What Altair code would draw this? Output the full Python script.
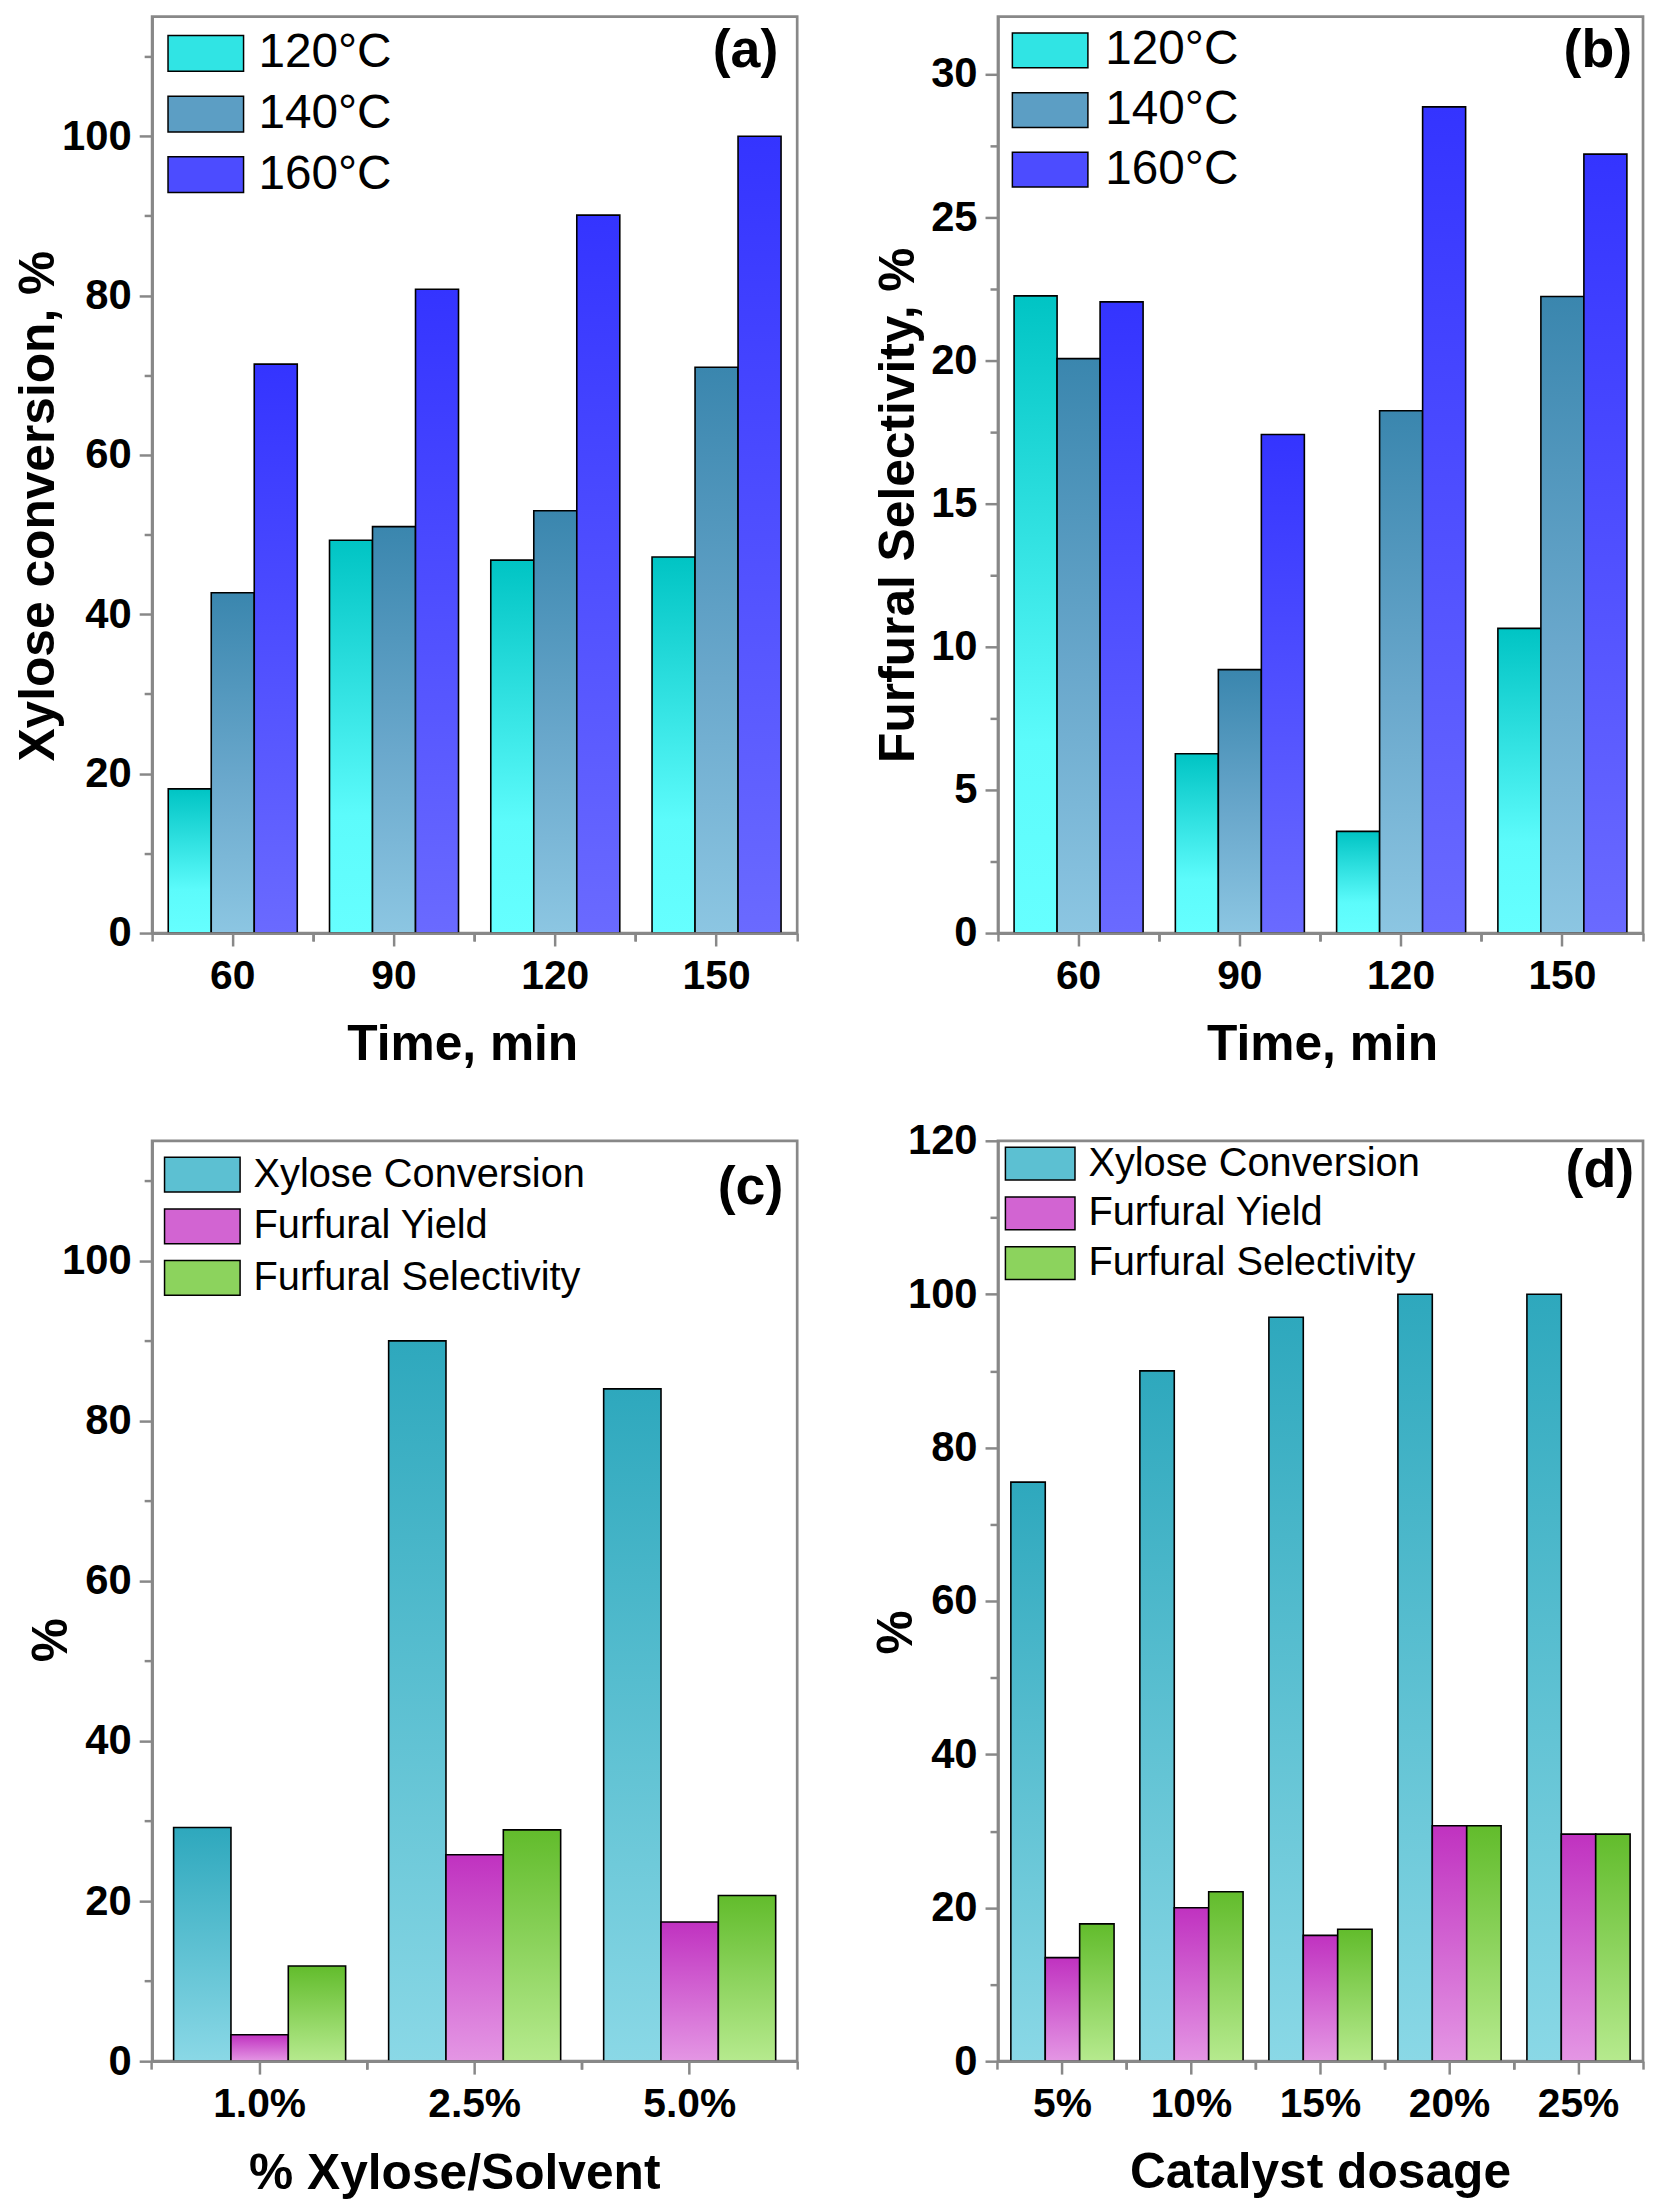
import altair as alt
import pandas as pd

# ---------------- data ----------------
times = ["60", "90", "120", "150"]
temps = ["120°C", "140°C", "160°C"]
conv_120 = [18.1, 49.3, 46.8, 47.2]
conv_140 = [42.7, 51.0, 53.0, 71.0]
conv_160 = [71.4, 80.8, 90.1, 100.0]
sel_120 = [22.25, 6.26, 3.55, 10.64]
sel_140 = [20.06, 9.2, 18.24, 22.23]
sel_160 = [22.04, 17.41, 28.85, 27.2]

ratios = ["1.0%", "2.5%", "5.0%"]
metrics = ["Xylose Conversion", "Furfural Yield", "Furfural Selectivity"]
ratio_conv = [29.2, 90.0, 84.0]
ratio_yield = [3.3, 25.8, 17.4]
ratio_sel = [11.9, 28.9, 20.7]

dosages = ["5%", "10%", "15%", "20%", "25%"]
dose_conv = [75.5, 90.0, 97.0, 100.0, 100.0]
dose_yield = [13.5, 20.0, 16.4, 30.7, 29.6]
dose_sel = [17.9, 22.1, 17.2, 30.7, 29.6]

panel_labels = ["(a)", "(b)", "(c)", "(d)"]

# ---------------- styles ----------------
FONT = "Liberation Sans"
GRAY = "#888888"

# gradient stops (offset 0 = bottom of bar, 1 = top)
temp_stops = {
    "120°C": [("#66ffff", 0), ("#5cfbfb", 0.3), ("#00c4c4", 1)],
    "140°C": [("#8cc6e2", 0), ("#6aa8cc", 0.45), ("#3a86ae", 1)],
    "160°C": [("#6a6aff", 0), ("#3434ff", 1)],
}
temp_legend = {"120°C": "#30e4e4", "140°C": "#5c9ec4", "160°C": "#4c4cff"}
metric_stops = {
    "Xylose Conversion": [("#8ad8e6", 0), ("#2ea8bd", 1)],
    "Furfural Yield": [("#e496e4", 0), ("#c032c0", 1)],
    "Furfural Selectivity": [("#b6ea8e", 0), ("#62bc2c", 1)],
}
metric_legend = {"Xylose Conversion": "#5cc0d2", "Furfural Yield": "#d264d2",
                 "Furfural Selectivity": "#8cd35d"}

PANEL_W = 649


def gradient(stops):
    return alt.LinearGradient(
        gradient="linear",
        stops=[alt.GradientStop(color=c, offset=o) for c, o in stops],
        x1=0, x2=0, y1=1, y2=0,
    )


def panel(cats, series, vals, stops_map, legend_map, ymax, major, minor,
          xtitle, ytitle, label, p):
    rows = []
    for s, vs in zip(series, vals):
        for c, v in zip(cats, vs):
            rows.append({"cat": c, "series": s, "value": v})
    df = pd.DataFrame(rows)

    xscale = alt.Scale(domain=cats, paddingInner=0.2, paddingOuter=0.1)
    offscale = alt.Scale(domain=series, paddingInner=0, paddingOuter=0)
    yscale = alt.Scale(domain=[0, ymax], nice=False, zero=True)

    majors, minors = [], []
    k = 0
    while k * minor <= ymax + 1e-9:
        v = round(k * minor, 4)
        if abs(v / major - round(v / major)) < 1e-6:
            majors.append(v)
        else:
            minors.append(v)
        k += 1

    yaxis = alt.Axis(
        orient="left", values=majors,
        tickSize=13, tickWidth=2.5, tickColor=GRAY,
        domainColor=GRAY, domainWidth=2.7, grid=False, labelOverlap=False,
        labelFont=FONT, labelFontSize=42, labelFontWeight="bold",
        labelColor="black", labelPadding=8,
        title=ytitle, titleFont=FONT, titleFontSize=50, titleFontWeight="bold",
        titleColor="black", titleAngle=270, titleAlign="center",
        titleBaseline="alphabetic", titleX=p["ytx"], titleY=p["yty"], zindex=1,
    )
    yminor = alt.Axis(
        orient="left", values=minors, labels=False, domain=False, title=None,
        grid=False, ticks=True, tickSize=8, tickWidth=2.5, tickColor=GRAY,
    )
    xaxis = alt.Axis(
        orient="bottom", labelAngle=0, tickSize=13, tickWidth=2.5, tickColor=GRAY,
        domainColor=GRAY, domainWidth=2.7, grid=False,
        labelFont=FONT, labelFontSize=41, labelFontWeight="bold",
        labelColor="black", labelPadding=11,
        title=xtitle, titleFont=FONT, titleFontSize=50, titleFontWeight="bold",
        titleColor="black", titleAlign="center", titleBaseline="alphabetic",
        titleX=p["xtx"], titleY=p["xty"], zindex=1,
    )

    def minor_axis(bp):
        return alt.Axis(orient="bottom", labels=False, domain=False, title=None,
                        grid=False, ticks=True, tickSize=8, tickWidth=2.5,
                        tickColor=GRAY, bandPosition=bp)

    layers = []
    for i, s in enumerate(series):
        if i == 0:
            xa = xaxis
        elif i == 1:
            xa = minor_axis(1.125)
        else:
            xa = None
        layers.append(
            alt.Chart(df)
            .transform_filter(alt.datum.series == s)
            .mark_bar(color=gradient(stops_map[s]), stroke="black", strokeWidth=1.6)
            .encode(
                x=alt.X("cat:N", scale=xscale, axis=xa),
                xOffset=alt.XOffset("series:N", scale=offscale),
                y=alt.Y("value:Q", scale=yscale, axis=yaxis if i == 0 else None),
            )
        )

    W, h = p["lw"], p["lh"]
    path = "M%.4f,-1H%.4fV1H%.4fZ" % (-W / h, W / h, -W / h)
    legend = alt.Legend(
        title=None, orient="none", legendX=p["lx"], legendY=p["ly"],
        direction="vertical", symbolType=path, symbolSize=h * h,
        symbolStrokeColor="black", symbolStrokeWidth=1.5, symbolOpacity=1,
        labelFont=FONT, labelFontSize=p["lfs"], labelFontWeight="normal",
        labelColor="black", labelOffset=p["loff"], rowPadding=p["lrp"],
        padding=0, labelLimit=800,
    )

    layers.append(
        alt.Chart(df)
        .mark_bar(opacity=0)
        .encode(
            x=alt.X("cat:N", scale=xscale, axis=minor_axis(-0.125)),
            xOffset=alt.XOffset("series:N", scale=offscale),
            y=alt.Y("value:Q", scale=yscale, axis=yminor),
            color=alt.Color("series:N",
                            scale=alt.Scale(domain=series,
                                            range=[legend_map[s] for s in series]),
                            legend=legend),
        )
    )

    layers.append(
        alt.Chart(pd.DataFrame({"label": [label]}))
        .mark_text(font=FONT, fontSize=54, fontWeight="bold", color="black",
                   align="right", baseline="alphabetic")
        .encode(text="label:N", x=alt.value(p["tx"]), y=alt.value(p["ty"]))
    )

    return (
        alt.layer(*layers)
        .resolve_axis(x="independent", y="independent")
        .properties(width=PANEL_W, height=p["h"])
    )


pa = panel(times, temps, [conv_120, conv_140, conv_160], temp_stops, temp_legend,
           115, 20, 10, "Time, min", "Xylose conversion, %", panel_labels[0],
           dict(h=922, ytx=-99, yty=492, xtx=312, xty=127, lx=30, ly=13, lw=76,
                lh=36, lfs=48, loff=29, lrp=13, tx=630, ty=51))
pb = panel(times, temps, [sel_120, sel_140, sel_160], temp_stops, temp_legend,
           32, 5, 2.5, "Time, min", "Furfural Selectivity, %", panel_labels[1],
           dict(h=922, ytx=-85, yty=491, xtx=326, xty=127, lx=28.5, ly=10, lw=76,
                lh=35, lfs=48, loff=31.5, lrp=12, tx=638, ty=51))
pc = panel(ratios, metrics, [ratio_conv, ratio_yield, ratio_sel], metric_stops,
           metric_legend, 115, 20, 10, "% Xylose/Solvent", "%", panel_labels[2],
           dict(h=926, ytx=-86, yty=502, xtx=304, xty=128, lx=30.5, ly=14, lw=76,
                lh=35, lfs=40, loff=31.5, lrp=10, tx=635, ty=64))
pd_ = panel(dosages, metrics, [dose_conv, dose_yield, dose_sel], metric_stops,
            metric_legend, 120, 20, 10, "Catalyst dosage", "%", panel_labels[3],
            dict(h=926, ytx=-87, yty=494, xtx=324, xty=127, lx=22.5, ly=3, lw=70,
                 lh=33, lfs=40, loff=28.5, lrp=10, tx=640, ty=46))

chart = (
    alt.concat(pa, pb, pc, pd_, columns=2, spacing={"row": 47, "column": 70})
    .resolve_scale(xOffset="independent", color="independent")
    .resolve_legend(color="independent")
    .properties(padding={"left": 4, "top": 0, "right": 0, "bottom": 0},
                background="white")
    .configure_view(stroke=GRAY, strokeWidth=2.7)
)

chart.save("out.html", embed_options={"renderer": "svg", "actions": False})
